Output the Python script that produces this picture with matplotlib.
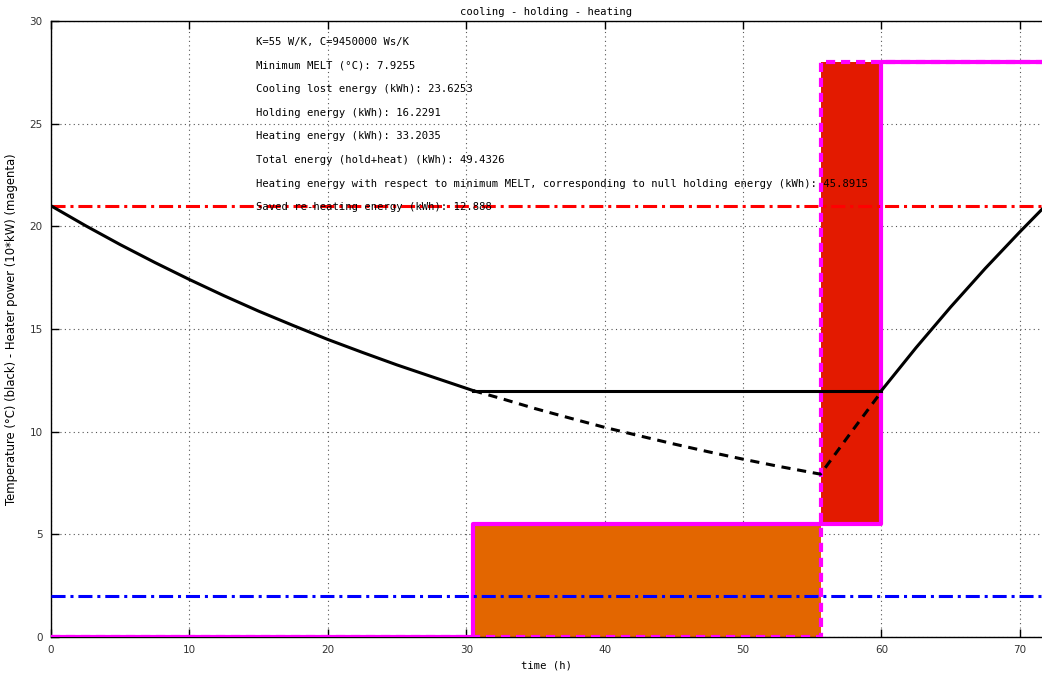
import matplotlib
matplotlib.use("Agg")
import matplotlib.pyplot as plt
import numpy as np

# ---- data ----
t_cool = [0, 2.5, 5, 7.5, 10, 12.5, 15, 17.5, 20, 22.5, 25, 27.5, 30.5]
T_cool = [21.0, 20.03, 19.11, 18.24, 17.41, 16.62, 15.87, 15.17, 14.49, 13.86, 13.25, 12.68, 12.0]

t_hold = [30.5, 60.0]
T_hold = [12.0, 12.0]

t_heat = [60.0, 62.5, 65, 67.5, 70, 71.6]
T_heat = [12.0, 14.09, 16.07, 17.95, 19.73, 20.83]

t_free = [30.5, 32.5, 35, 37.5, 40, 42.5, 45, 47.5, 50, 52.5, 55.6, 57.8, 60.0]
T_free = [12.0, 11.62, 11.12, 10.66, 10.21, 9.80, 9.40, 9.02, 8.66, 8.32, 7.93, 9.96, 11.95]

t_edges = [0, 30.5, 55.6, 60.0, 71.6]
P_hold = [0, 5.5, 5.5, 28]      # heater power, holding strategy (solid)
P_free = [0, 0, 28, 28]         # heater power, no holding (dashed)

T_set = 21.0
T_out = 2.0

annot = [
    "K=55 W/K, C=9450000 Ws/K",
    "Minimum MELT (\u00b0C): 7.9255",
    "Cooling lost energy (kWh): 23.6253",
    "Holding energy (kWh): 16.2291",
    "Heating energy (kWh): 33.2035",
    "Total energy (hold+heat) (kWh): 49.4326",
    "Heating energy with respect to minimum MELT, corresponding to null holding energy (kWh): 45.8915",
    "Saved re-heating energy (kWh): 12.888",
]
annot_y = [28.97, 27.82, 26.68, 25.53, 24.38, 23.23, 22.08, 20.93]

# ---- figure ----
W, H = 1042, 673
fig = plt.figure(figsize=(W / 100, H / 100), dpi=100)
ax = fig.add_axes([51 / W, (H - 637) / H, (W - 51) / W, (637 - 21) / H])

ax.set_xlim(0, 71.6)
ax.set_ylim(0, 30)

ts = np.array(t_edges)
ph = np.array(P_hold + [P_hold[-1]])
pf = np.array(P_free + [P_free[-1]])

# energy areas: holding (orange) and extra re-heating (red)
ax.fill_between([t_edges[1], t_edges[2]], P_free[1], P_hold[1],
                color="#E36600", linewidth=0, zorder=2)
ax.fill_between([t_edges[2], t_edges[3]], P_hold[2], P_free[2],
                color="#E31A00", linewidth=0, zorder=2)

ax.step(ts, pf, where="post", color="#FF00FF", lw=3.0, ls=(0, (2.2, 1.4)), zorder=3)
ax.step(ts, ph, where="post", color="#FF00FF", lw=3.0, zorder=3)

ax.axhline(T_set, color="#FF0000", lw=2.2, ls=(0, (4.6, 1.6, 1.0, 1.6)), zorder=4)
ax.axhline(T_out, color="#0000FF", lw=2.2, ls=(0, (4.6, 1.6, 1.0, 1.6)), zorder=4)

ax.plot(t_free, T_free, color="black", lw=2.2, ls=(0, (3.0, 2.2)), zorder=5)
ax.plot(t_cool, T_cool, color="black", lw=2.2, zorder=5)
ax.plot(t_hold, T_hold, color="black", lw=2.2, zorder=5)
ax.plot(t_heat, T_heat, color="black", lw=2.2, zorder=5)

for s, y in zip(annot, annot_y):
    ax.text(14.8, y, s, family="DejaVu Sans Mono", fontsize=7.6, va="center",
            ha="left", color="black", zorder=6)

ax.set_title("cooling - holding - heating", family="DejaVu Sans Mono",
             fontsize=7.6, pad=4)
ax.set_xlabel("time (h)", family="DejaVu Sans Mono", fontsize=7.6, labelpad=4)
ax.set_ylabel("Temperature (\u00b0C) (black) - Heater power (10*kW) (magenta)",
              fontsize=8.4, labelpad=8)

ax.set_xticks(range(0, 71, 10))
ax.set_yticks(range(0, 31, 5))
ax.tick_params(direction="in", length=6, width=1, top=True, right=False,
               labelsize=7.5, labelcolor="#333333", pad=6)
ax.grid(True, ls=(0, (1, 3)), color="#555555", lw=0.8, zorder=0)
ax.set_axisbelow(True)
ax.spines["right"].set_visible(False)
for sp in ("left", "top", "bottom"):
    ax.spines[sp].set_linewidth(1.0)

fig.savefig("out.png", dpi=100)
